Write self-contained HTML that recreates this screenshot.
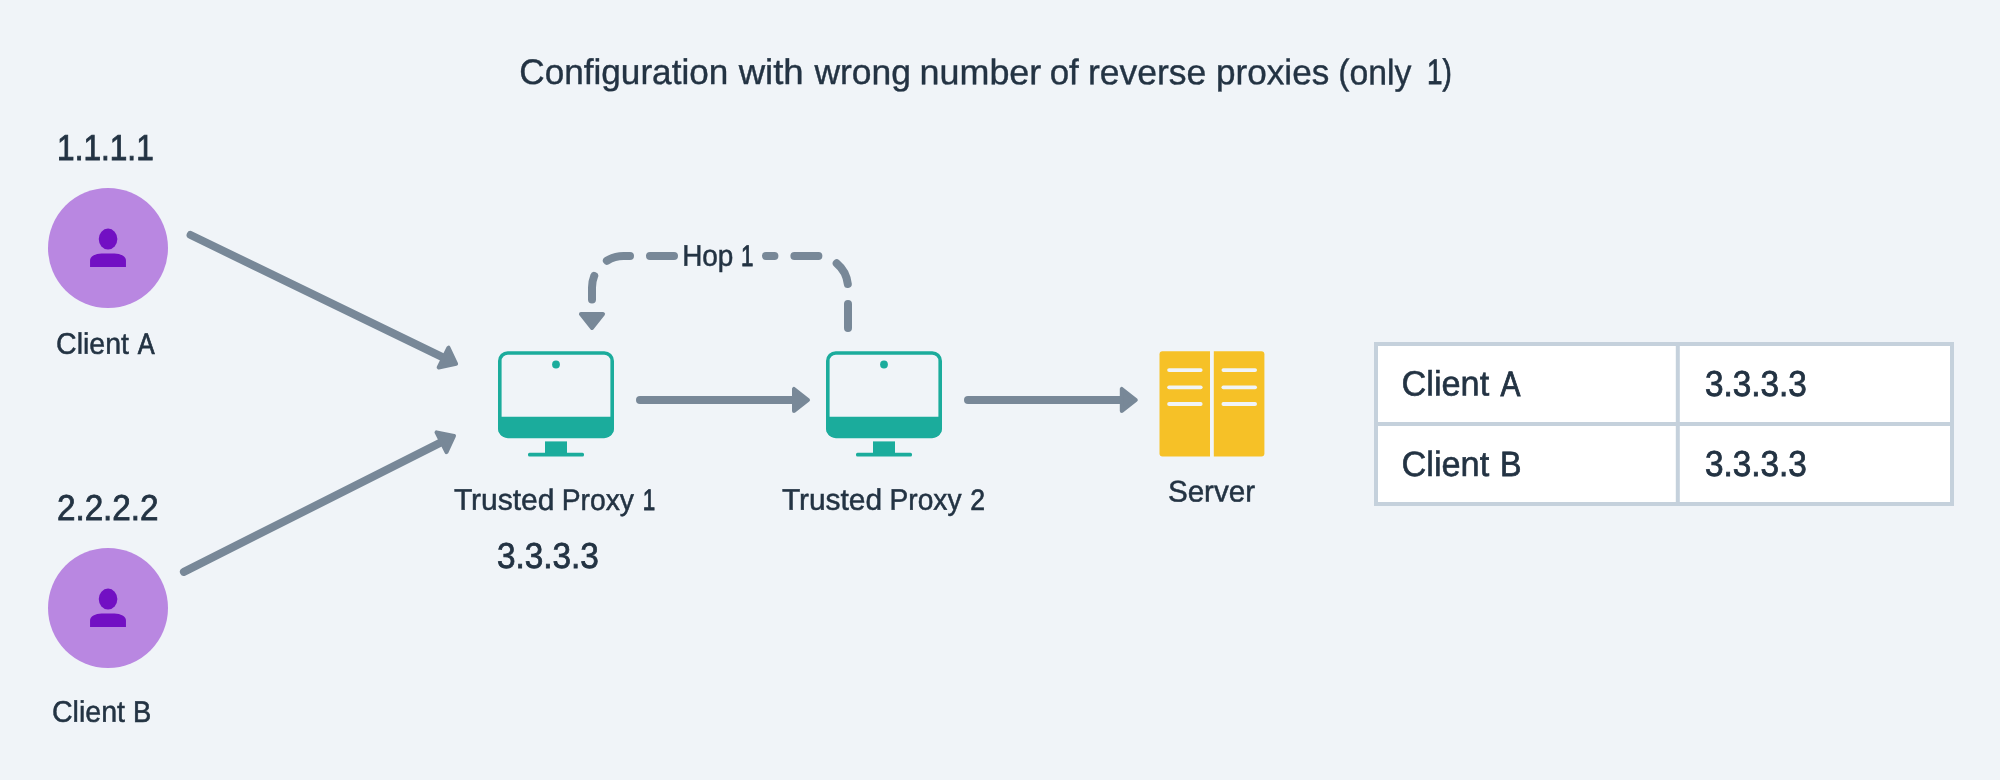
<!DOCTYPE html>
<html lang="en">
<head>
<meta charset="utf-8">
<title>Configuration with wrong number of reverse proxies (only 1)</title>
<style>
  html, body { margin: 0; padding: 0; background: #f0f4f8; }
  body { width: 2000px; height: 780px; overflow: hidden; }
  svg { display: block; }
  text { font-family: "Liberation Sans", sans-serif; fill: #233343; stroke: #233343; stroke-width: 0.35px; }
  .big { font-size: 35.5px; stroke-width: 0.4px; }
  .tbl { font-size: 35.2px; stroke-width: 0.6px; }
  .lbl { font-size: 29.7px; stroke-width: 0.5px; }
  .num { font-size: 36px; stroke-width: 0.65px; }
</style>
</head>
<body>
<svg width="2000" height="780" viewBox="0 0 2000 780">

  <!-- title -->
  <text class="big" y="84.2" transform="rotate(0.03 986 84)"><tspan x="519.3" textLength="209.0" lengthAdjust="spacingAndGlyphs">Configuration</tspan> <tspan x="738.7" textLength="65.0" lengthAdjust="spacingAndGlyphs">with</tspan> <tspan x="814.4" textLength="96.5" lengthAdjust="spacingAndGlyphs">wrong</tspan> <tspan x="919.6" textLength="121.7" lengthAdjust="spacingAndGlyphs">number</tspan> <tspan x="1049.7" textLength="29.1" lengthAdjust="spacingAndGlyphs">of</tspan> <tspan x="1088.0" textLength="118.2" lengthAdjust="spacingAndGlyphs">reverse</tspan> <tspan x="1216.1" textLength="113.1" lengthAdjust="spacingAndGlyphs">proxies</tspan> <tspan x="1338.3" textLength="73.1" lengthAdjust="spacingAndGlyphs">(only</tspan> <tspan x="1427.1" textLength="24.8" lengthAdjust="spacingAndGlyphs" stroke-width="0.81">1)</tspan></text>

  <!-- client A -->
  <text class="num" y="159.9" transform="rotate(0.03 106 160)"><tspan x="57.1" textLength="96.6" lengthAdjust="spacingAndGlyphs" stroke-width="0.89">1.1.1.1</tspan></text>
  <circle cx="108" cy="248" r="60" fill="#b987e1"/>
  <g fill="#7210c3">
    <ellipse cx="108.05" cy="239.1" rx="9.3" ry="10.5"/>
    <path d="M90.05 267.1 V260.4 A11.5 7 0 0 1 101.55 253.4 H114.45 A11.5 7 0 0 1 125.95 260.4 V267.1 Z"/>
  </g>
  <text class="lbl" y="353.8" transform="rotate(0.03 106 354)"><tspan x="56.1" textLength="72.9" lengthAdjust="spacingAndGlyphs">Client</tspan> <tspan x="137.7" textLength="16.9" lengthAdjust="spacingAndGlyphs" stroke-width="0.73">A</tspan></text>

  <!-- client B -->
  <text class="num" y="519.9" transform="rotate(0.03 108 520)"><tspan x="56.9" textLength="101.7" lengthAdjust="spacingAndGlyphs" stroke-width="0.80">2.2.2.2</tspan></text>
  <circle cx="108" cy="608" r="60" fill="#b987e1"/>
  <g fill="#7210c3" transform="translate(0 360)">
    <ellipse cx="108.05" cy="239.1" rx="9.3" ry="10.5"/>
    <path d="M90.05 267.1 V260.4 A11.5 7 0 0 1 101.55 253.4 H114.45 A11.5 7 0 0 1 125.95 260.4 V267.1 Z"/>
  </g>
  <text class="lbl" y="721.8" transform="rotate(0.03 102 722)"><tspan x="52.0" textLength="73.0" lengthAdjust="spacingAndGlyphs">Client</tspan> <tspan x="132.9" textLength="18.2" lengthAdjust="spacingAndGlyphs" stroke-width="0.63">B</tspan></text>

  <!-- arrows -->
  <g stroke="#788898" fill="#788898" stroke-linecap="round" stroke-linejoin="round">
    <!-- A -> proxy 1 -->
    <line x1="190.6" y1="235" x2="445" y2="358.4" stroke-width="8"/>
    <polygon points="0,0 -14,-11.05 -14,11.05" stroke-width="4" transform="translate(456.1 363.8) rotate(26.3)"/>
    <!-- B -> proxy 1 -->
    <line x1="183.9" y1="571.9" x2="443" y2="441.4" stroke-width="8"/>
    <polygon points="0,0 -14,-11.05 -14,11.05" stroke-width="4" transform="translate(454 435.9) rotate(-26.8)"/>
    <!-- proxy1 -> proxy2 -->
    <line x1="640" y1="400" x2="796" y2="400" stroke-width="8"/>
    <polygon points="0,0 -14,-11.05 -14,11.05" stroke-width="4" transform="translate(808 400)"/>
    <!-- proxy2 -> server -->
    <line x1="968" y1="400" x2="1124" y2="400" stroke-width="8"/>
    <polygon points="0,0 -14,-11.05 -14,11.05" stroke-width="4" transform="translate(1135.8 400)"/>
    <!-- hop dashed -->
    <path d="M848 328 V287.5 A31.5 31.5 0 0 0 816.5 256 H766" fill="none" stroke-width="8" stroke-dasharray="24 20"/>
    <path d="M674 256 H623.5 A31.5 31.5 0 0 0 592 287.5 V304" fill="none" stroke-width="8" stroke-dasharray="24 20"/>
    <polygon points="0,0 -14,-11.05 -14,11.05" stroke-width="4" transform="translate(592 328) rotate(90)"/>
  </g>
  <text class="lbl" y="265.7" transform="rotate(0.03 718 266)"><tspan x="682.2" textLength="51.2" lengthAdjust="spacingAndGlyphs">Hop</tspan> <tspan x="741.0" textLength="12.4" lengthAdjust="spacingAndGlyphs" stroke-width="0.90">1</tspan></text>

  <!-- proxy 1 monitor -->
  <g id="mon1">
    <rect x="499.8" y="353" width="112.4" height="83.4" rx="8" ry="8" fill="none" stroke="#1bac9c" stroke-width="3.6"/>
    <path d="M498 416.8 H614 V428 A10 10 0 0 1 604 438 H508 A10 10 0 0 1 498 428 Z" fill="#1bac9c"/>
    <circle cx="556" cy="364.5" r="3.9" fill="#1bac9c"/>
    <rect x="545" y="441.4" width="22" height="12" fill="#1bac9c"/>
    <rect x="528" y="452.7" width="56" height="3.8" rx="1.5" fill="#1bac9c"/>
  </g>
  <text class="lbl" y="509.9" transform="rotate(0.03 554 510)"><tspan x="453.9" textLength="100.6" lengthAdjust="spacingAndGlyphs">Trusted</tspan> <tspan x="561.7" textLength="72.2" lengthAdjust="spacingAndGlyphs">Proxy</tspan> <tspan x="642.7" textLength="12.5" lengthAdjust="spacingAndGlyphs" stroke-width="0.89">1</tspan></text>
  <text class="num" y="567.9" transform="rotate(0.03 548 568)"><tspan x="496.9" textLength="102.0" lengthAdjust="spacingAndGlyphs" stroke-width="0.79">3.3.3.3</tspan></text>

  <!-- proxy 2 monitor -->
  <g transform="translate(328 0)">
    <rect x="499.8" y="353" width="112.4" height="83.4" rx="8" ry="8" fill="none" stroke="#1bac9c" stroke-width="3.6"/>
    <path d="M498 416.8 H614 V428 A10 10 0 0 1 604 438 H508 A10 10 0 0 1 498 428 Z" fill="#1bac9c"/>
    <circle cx="556" cy="364.5" r="3.9" fill="#1bac9c"/>
    <rect x="545" y="441.4" width="22" height="12" fill="#1bac9c"/>
    <rect x="528" y="452.7" width="56" height="3.8" rx="1.5" fill="#1bac9c"/>
  </g>
  <text class="lbl" y="509.8" transform="rotate(0.03 883 510)"><tspan x="781.9" textLength="100.2" lengthAdjust="spacingAndGlyphs">Trusted</tspan> <tspan x="889.6" textLength="71.9" lengthAdjust="spacingAndGlyphs">Proxy</tspan> <tspan x="970.3" textLength="14.8" lengthAdjust="spacingAndGlyphs" stroke-width="0.67">2</tspan></text>

  <!-- server -->
  <g>
    <path d="M1162.5 351.3 H1210 V456.4 H1162.5 A3 3 0 0 1 1159.5 453.4 V354.3 A3 3 0 0 1 1162.5 351.3 Z" fill="#f6c127"/>
    <path d="M1213.8 351.3 H1261.4 A3 3 0 0 1 1264.4 354.3 V453.4 A3 3 0 0 1 1261.4 456.4 H1213.8 Z" fill="#f6c127"/>
    <g stroke="#f0f4f8" stroke-width="3.8" stroke-linecap="round">
      <line x1="1169.1" y1="370.1" x2="1200.7" y2="370.1"/>
      <line x1="1169.1" y1="387.3" x2="1200.7" y2="387.3"/>
      <line x1="1169.1" y1="404" x2="1200.7" y2="404"/>
      <line x1="1223.4" y1="370.1" x2="1255.1" y2="370.1"/>
      <line x1="1223.4" y1="387.3" x2="1255.1" y2="387.3"/>
      <line x1="1223.4" y1="404" x2="1255.1" y2="404"/>
    </g>
  </g>
  <text class="lbl" y="501.6" transform="rotate(0.03 1212 502)"><tspan x="1167.9" textLength="87.2" lengthAdjust="spacingAndGlyphs">Server</tspan></text>

  <!-- table -->
  <g>
    <rect x="1376" y="344" width="576" height="160" fill="#ffffff" stroke="#c5d1dc" stroke-width="4"/>
    <line x1="1677.8" y1="344" x2="1677.8" y2="504" stroke="#c5d1dc" stroke-width="4"/>
    <line x1="1376" y1="424" x2="1952" y2="424" stroke="#c5d1dc" stroke-width="4"/>
  </g>
  <text class="tbl" y="395.6" transform="rotate(0.03 1462 396)"><tspan x="1401.6" textLength="87.6" lengthAdjust="spacingAndGlyphs">Client</tspan> <tspan x="1500.5" textLength="19.9" lengthAdjust="spacingAndGlyphs" stroke-width="0.89">A</tspan></text>
  <text class="num" y="395.9" transform="rotate(0.03 1756 396)"><tspan x="1704.9" textLength="101.9" lengthAdjust="spacingAndGlyphs" stroke-width="0.80">3.3.3.3</tspan></text>
  <text class="tbl" y="476.0" transform="rotate(0.03 1462 476)"><tspan x="1401.6" textLength="87.6" lengthAdjust="spacingAndGlyphs">Client</tspan> <tspan x="1499.9" textLength="21.5" lengthAdjust="spacingAndGlyphs" stroke-width="0.76">B</tspan></text>
  <text class="num" y="476.2" transform="rotate(0.03 1756 476)"><tspan x="1704.9" textLength="101.9" lengthAdjust="spacingAndGlyphs" stroke-width="0.80">3.3.3.3</tspan></text>
  <!-- forces grayscale text antialiasing (multiply with white is a visual no-op) -->
  <rect x="0" y="0" width="1" height="1" fill="#ffffff" style="mix-blend-mode:multiply"/>
</svg>
</body>
</html>
